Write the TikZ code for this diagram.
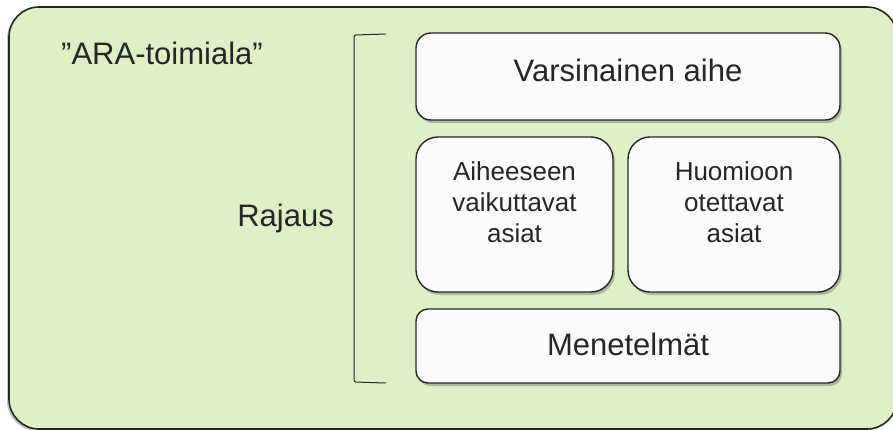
\documentclass[tikz,border=0pt]{standalone}
\usepackage{fontspec}
\setmainfont{Liberation Sans}
\usetikzlibrary{positioning, shadows}
\definecolor{alagreen}{HTML}{E0EFC6}
\definecolor{boxfill}{HTML}{FCFCFC}
\definecolor{ink}{HTML}{262626}
\tikzset{
  alabox/.style={draw=ink, fill=alagreen, line width=1.6pt, rounded corners=30pt,
    drop shadow={shadow xshift=-2pt, shadow yshift=-2pt, opacity=0.45}},
  aihebox/.style={draw=ink, fill=boxfill, line width=1.4pt, rounded corners=#1, inner sep=0pt,
    drop shadow={shadow xshift=2pt, shadow yshift=-3pt, opacity=0.5}},
  bigtext/.style={text=ink, font=\fontsize{31}{37}\selectfont, inner sep=0pt},
  smalltext/.style={text=ink, font=\fontsize{26}{31}\selectfont, align=center, inner sep=0pt}
}

\begin{document}
\begin{tikzpicture}[x=1pt, y=-1pt]
\useasboundingbox (0,0) rectangle (893,429);
\clip (0,0) rectangle (893,429);
\draw[alabox] (9,7) rectangle (897,429);
\node[bigtext, anchor=west] (toimiala) at (61,53) {”ARA-toimiala”};
\node[bigtext, anchor=east] (rajaus) at (334,218) {Rajaus};
\draw[ink, line width=1pt, rounded corners=2pt] (386,34) -- (354,35) -- (354,382) -- (386,383);
\node[aihebox=15pt, minimum width=424pt, minimum height=87pt] (varsinainen) at (628,76.5) {};
\node[bigtext] at ([yshift=6pt]varsinainen.center) {Varsinainen aihe};
\node[aihebox=22pt, minimum width=197pt, minimum height=155pt] (vaikuttavat) at (514.5,214.5) {};
\node[smalltext] at ([yshift=12pt]vaikuttavat.center) {Aiheeseen\\vaikuttavat\\asiat};
\node[aihebox=22pt, minimum width=212pt, minimum height=155pt] (otettavat) at (734,214.5) {};
\node[smalltext] at ([yshift=12pt]otettavat.center) {Huomioon\\otettavat\\asiat};
\node[aihebox=12pt, minimum width=424pt, minimum height=74pt] (menetelmat) at (628,346) {};
\node[bigtext] at ([yshift=2pt]menetelmat.center) {Menetelmät};
\end{tikzpicture}
\end{document}
